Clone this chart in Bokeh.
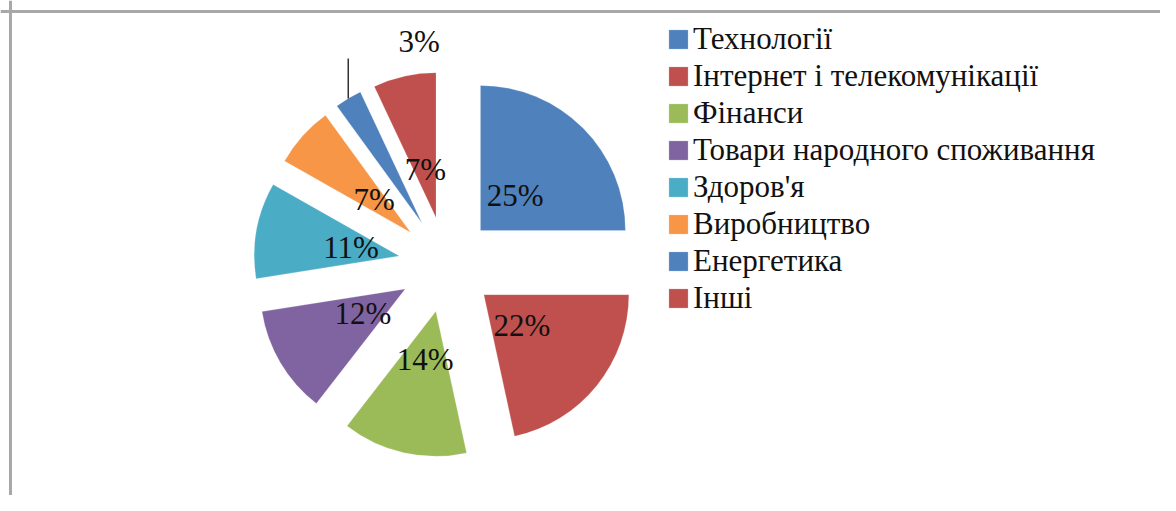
import math
from bokeh.plotting import figure
from bokeh.models import ColumnDataSource, Range1d, Span, Legend, LegendItem
from bokeh.core.properties import value
from bokeh.embed import file_html
from bokeh.resources import INLINE

# ---- data ----
categories = ["Технології", "Інтернет і телекомунікації", "Фінанси",
              "Товари народного споживання", "Здоров'я", "Виробництво",
              "Енергетика", "Інші"]
shares = [25.0, 21.6, 13.9, 12.0, 10.7, 6.8, 3.0, 7.0]
colors = ["#4F81BD", "#C0504D", "#9BBB59", "#8064A2", "#4BACC6", "#F79646",
          "#4F81BD", "#C0504D"]

# ---- layout constants (screen-pixel-like data space) ----
W, H = 1160, 495
SERIF = "Liberation Serif, DejaVu Serif, serif"
CX, CY = 446, -264      # pie centre
R = 145                 # radius
EXPLODE = 48            # explosion distance
LABEL_R = 97            # label distance from centre
OUT_IDX = 6             # slice whose label sits outside
LEADER_LEN = 40
OUT_DX, OUT_DY = 71, 17

total = sum(shares)
xs, ys, sa, ea, lx, ly, txt = [], [], [], [], [], [], []
cum = 0.0
lead_x0 = lead_y0 = None
for i, v in enumerate(shares):
    t0 = 2 * math.pi * cum / total
    cum += v
    t1 = 2 * math.pi * cum / total
    mid = (t0 + t1) / 2
    dx, dy = math.sin(mid), math.cos(mid)
    xs.append(CX + EXPLODE * dx)
    ys.append(CY + EXPLODE * dy)
    sa.append(math.pi / 2 - t1)
    ea.append(math.pi / 2 - t0)
    txt.append(f"{round(v)}%")
    if i == OUT_IDX:
        lead_x0 = CX + (EXPLODE + R) * dx
        lead_y0 = CY + (EXPLODE + R) * dy
        lx.append(lead_x0 + OUT_DX)
        ly.append(lead_y0 + LEADER_LEN + OUT_DY)
    else:
        lx.append(CX + LABEL_R * dx)
        ly.append(CY + LABEL_R * dy)

src = ColumnDataSource(dict(x=xs, y=ys, start=sa, end=ea, color=colors,
                            cat=categories))
lsrc = ColumnDataSource(dict(x=lx, y=ly, text=txt))

p = figure(width=W, height=H, output_backend="svg", toolbar_location=None,
           x_range=Range1d(0, W), y_range=Range1d(-H, 0),
           min_border=0)
p.axis.visible = False
p.grid.visible = False
p.outline_line_color = None
p.background_fill_color = "white"

# frame lines of the original chart area
p.add_layout(Span(location=-11, dimension="width", line_color="#a8a8a8", line_width=3))
p.add_layout(Span(location=10, dimension="height", line_color="#a8a8a8", line_width=3))

wr = p.wedge(x="x", y="y", radius=R, start_angle="start", end_angle="end",
             fill_color="color", line_color="#ffffff", line_width=0.5,
             line_alpha=0.4, source=src)

p.segment(x0=[lead_x0], y0=[lead_y0], x1=[lead_x0], y1=[lead_y0 + LEADER_LEN],
          line_color="#333333", line_width=1.5)

p.text(x="x", y="y", text="text", source=lsrc, text_align="center",
       text_baseline="middle", text_font=value(SERIF),
       text_font_size="31px", text_color="#111111")

legend = Legend(items=[LegendItem(label=c, renderers=[wr], index=i)
                       for i, c in enumerate(categories)],
                location=(666, 179), orientation="vertical",
                label_text_font=SERIF, label_text_font_size="31px",
                label_text_color="#111111", glyph_width=24, glyph_height=24,
                label_height=36, spacing=1, label_standoff=3, padding=0,
                margin=0, border_line_color=None, background_fill_alpha=0)
p.add_layout(legend)

open("out.html", "w").write(file_html(p, INLINE))
